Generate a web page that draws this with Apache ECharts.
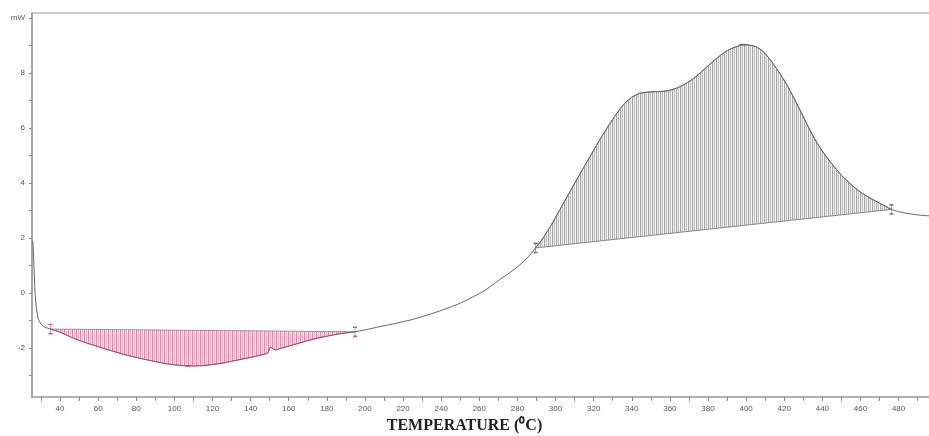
<!DOCTYPE html>
<html>
<head>
<meta charset="utf-8">
<script src="https://cdn.jsdelivr.net/npm/echarts@6/dist/echarts.min.js"></script>
<style>
html,body{margin:0;padding:0;background:#fff;}
#c{width:929px;height:436px;}
</style>
</head>
<body>
<div id="c"></div>
<script>
// Temperature (°C) and heat flow (mW)
const temps = [25.6,25.9,26.2,26.6,27.0,27.6,28.6,30.0,31.5,35.0,40,45,50,55,60,65,70,75,80,85,90,95,100,105,110,115,120,125,130,135,140,145,149,150.4,151.6,153,155,160,165,170,175,180,185,190,194.8,200,208,215,225,235,243,250,257,263,268,273,278,283,286,289.5,293,298,302,307,313,318,323,328,332,336,340,344,348,352,356,360,364,368,372,376,380,384,388,392,396,398,401,405,409,413,417,421,425,429,433,437,441,445,450,455,460,465,470,476.3,480,485,490,497];
const heatFlow = [1.90,1.70,1.20,0.50,-0.10,-0.55,-0.95,-1.12,-1.22,-1.31,-1.42,-1.58,-1.72,-1.84,-1.95,-2.06,-2.16,-2.26,-2.34,-2.42,-2.49,-2.56,-2.61,-2.64,-2.65,-2.64,-2.60,-2.55,-2.48,-2.41,-2.34,-2.26,-2.18,-1.97,-2.02,-2.07,-2.03,-1.93,-1.83,-1.73,-1.64,-1.57,-1.50,-1.45,-1.41,-1.34,-1.22,-1.12,-0.96,-0.75,-0.56,-0.37,-0.13,0.10,0.35,0.60,0.84,1.13,1.34,1.64,1.95,2.50,3.00,3.62,4.35,4.95,5.55,6.10,6.52,6.88,7.12,7.26,7.30,7.32,7.33,7.37,7.46,7.60,7.78,8.01,8.26,8.50,8.72,8.88,8.98,9.03,9.02,8.96,8.78,8.45,8.05,7.62,7.10,6.55,5.99,5.48,5.06,4.70,4.28,3.95,3.67,3.45,3.27,3.04,2.96,2.89,2.84,2.80];

// Integration limits (°C)
const endoRange = [35.0, 194.8];
const exoRange = [289.5, 476.3];
// Peak markers (°C, mW)
const endoPeak = [107, -2.65];
const exoPeak = [398, 9.03];

const xTicks = [30,40,50,60,70,80,90,100,110,120,130,140,150,160,170,180,190,200,210,220,230,240,250,260,270,280,290,300,310,320,330,340,350,360,370,380,390,400,410,420,430,440,450,460,470,480,490];
const xLabels = [40,60,80,100,120,140,160,180,200,220,240,260,280,300,320,340,360,380,400,420,440,460,480];
const yTicks = [-3,-2,-1,0,1,2,3,4,5,6,7,8,9,10];
const yLabels = [-2,0,2,4,6,8,10];

const curve = temps.map((t, i) => [t, heatFlow[i]]);

function stripe(cols) {
  const c = document.createElement('canvas');
  c.width = cols.length; c.height = 4;
  const g = c.getContext('2d');
  cols.forEach((col, i) => { g.fillStyle = col; g.fillRect(i, 0, 1, 4); });
  return { image: c, repeat: 'repeat' };
}
const pinkPattern = stripe(['#d58dab', '#f8e4ec', '#e7b3c8', '#fdf4f8']);
const grayPattern = stripe(['#a8a8a8', '#e6e6e6', '#c2c2c2', '#f7f7f7']);

function regionSeries(range, fill, stroke) {
  const pts = curve.filter(p => p[0] >= range[0] && p[0] <= range[1]);
  return {
    type: 'custom',
    coordinateSystem: 'cartesian2d',
    silent: true,
    z: 1,
    data: [[range[0], pts[0][1]]],
    renderItem: function (params, api) {
      const poly = pts.map(p => api.coord(p));
      return {
        type: 'polygon',
        shape: { points: poly },
        style: { fill: fill, stroke: stroke, lineWidth: 1 }
      };
    }
  };
}

function limitMarkers(range, color) {
  const pts = range.map(t => curve.find(p => p[0] === t));
  return {
    type: 'scatter',
    data: pts,
    symbol: 'path://M2,0L2,12M0,1L4,1M0,11L4,11',
    symbolSize: [4, 11],
    itemStyle: { color: 'none', borderColor: color, borderWidth: 1 },
    z: 5,
    silent: true
  };
}

const chart = echarts.init(document.getElementById('c'));
chart.setOption({
  animation: false,
  backgroundColor: '#fff',
  grid: { left: 32, right: -6, top: 13, bottom: 39, show: true, borderColor: '#cccccc', borderWidth: 2,
    outerBoundsMode: 'none', containLabel: false },
  xAxis: {
    type: 'value', min: 25.3, max: 499.1,
    name: 'TEMPERATURE (\u2070C)',
    nameLocation: 'middle', nameGap: 21,
    nameTextStyle: { fontFamily: 'Liberation Serif', fontWeight: 'bold', fontSize: 16, color: '#222', padding: [0, 38, 0, 0] },
    axisLine: { show: true, onZero: false, lineStyle: { color: '#a8a8a8', width: 1.5 } },
    axisTick: { show: true, length: 4, customValues: xTicks, lineStyle: { color: '#888' } },
    axisLabel: { customValues: xLabels, fontSize: 8, color: '#555', margin: 8, fontFamily: 'Liberation Sans' },
    splitLine: { show: false }
  },
  yAxis: {
    type: 'value', min: -3.78, max: 10.18,
    axisLine: { show: true, onZero: false, lineStyle: { color: '#a8a8a8', width: 2 } },
    axisTick: { show: true, length: 3, customValues: yTicks, lineStyle: { color: '#888' } },
    axisLabel: { customValues: yLabels, fontSize: 8, color: '#555', margin: 7, fontFamily: 'Liberation Sans',
      formatter: v => v === 10 ? 'mW' : String(v) },
    splitLine: { show: false }
  },
  series: [
    regionSeries(endoRange, pinkPattern, '#c9799b'),
    regionSeries(exoRange, grayPattern, '#8a8a8a'),
    {
      type: 'line', data: curve, showSymbol: false, smooth: 0.3, z: 3,
      lineStyle: { color: '#666', width: 1 }, silent: true
    },
    limitMarkers(endoRange, '#b0406e'),
    limitMarkers(exoRange, '#555'),
    {
      type: 'scatter', data: [endoPeak], symbol: 'rect', symbolSize: [5, 1.5],
      itemStyle: { color: '#b0406e' }, z: 5, silent: true
    },
    {
      type: 'scatter', data: [exoPeak], symbol: 'rect', symbolSize: [6, 1.5],
      itemStyle: { color: '#555' }, z: 5, silent: true
    }
  ]
});
</script>
</body>
</html>
